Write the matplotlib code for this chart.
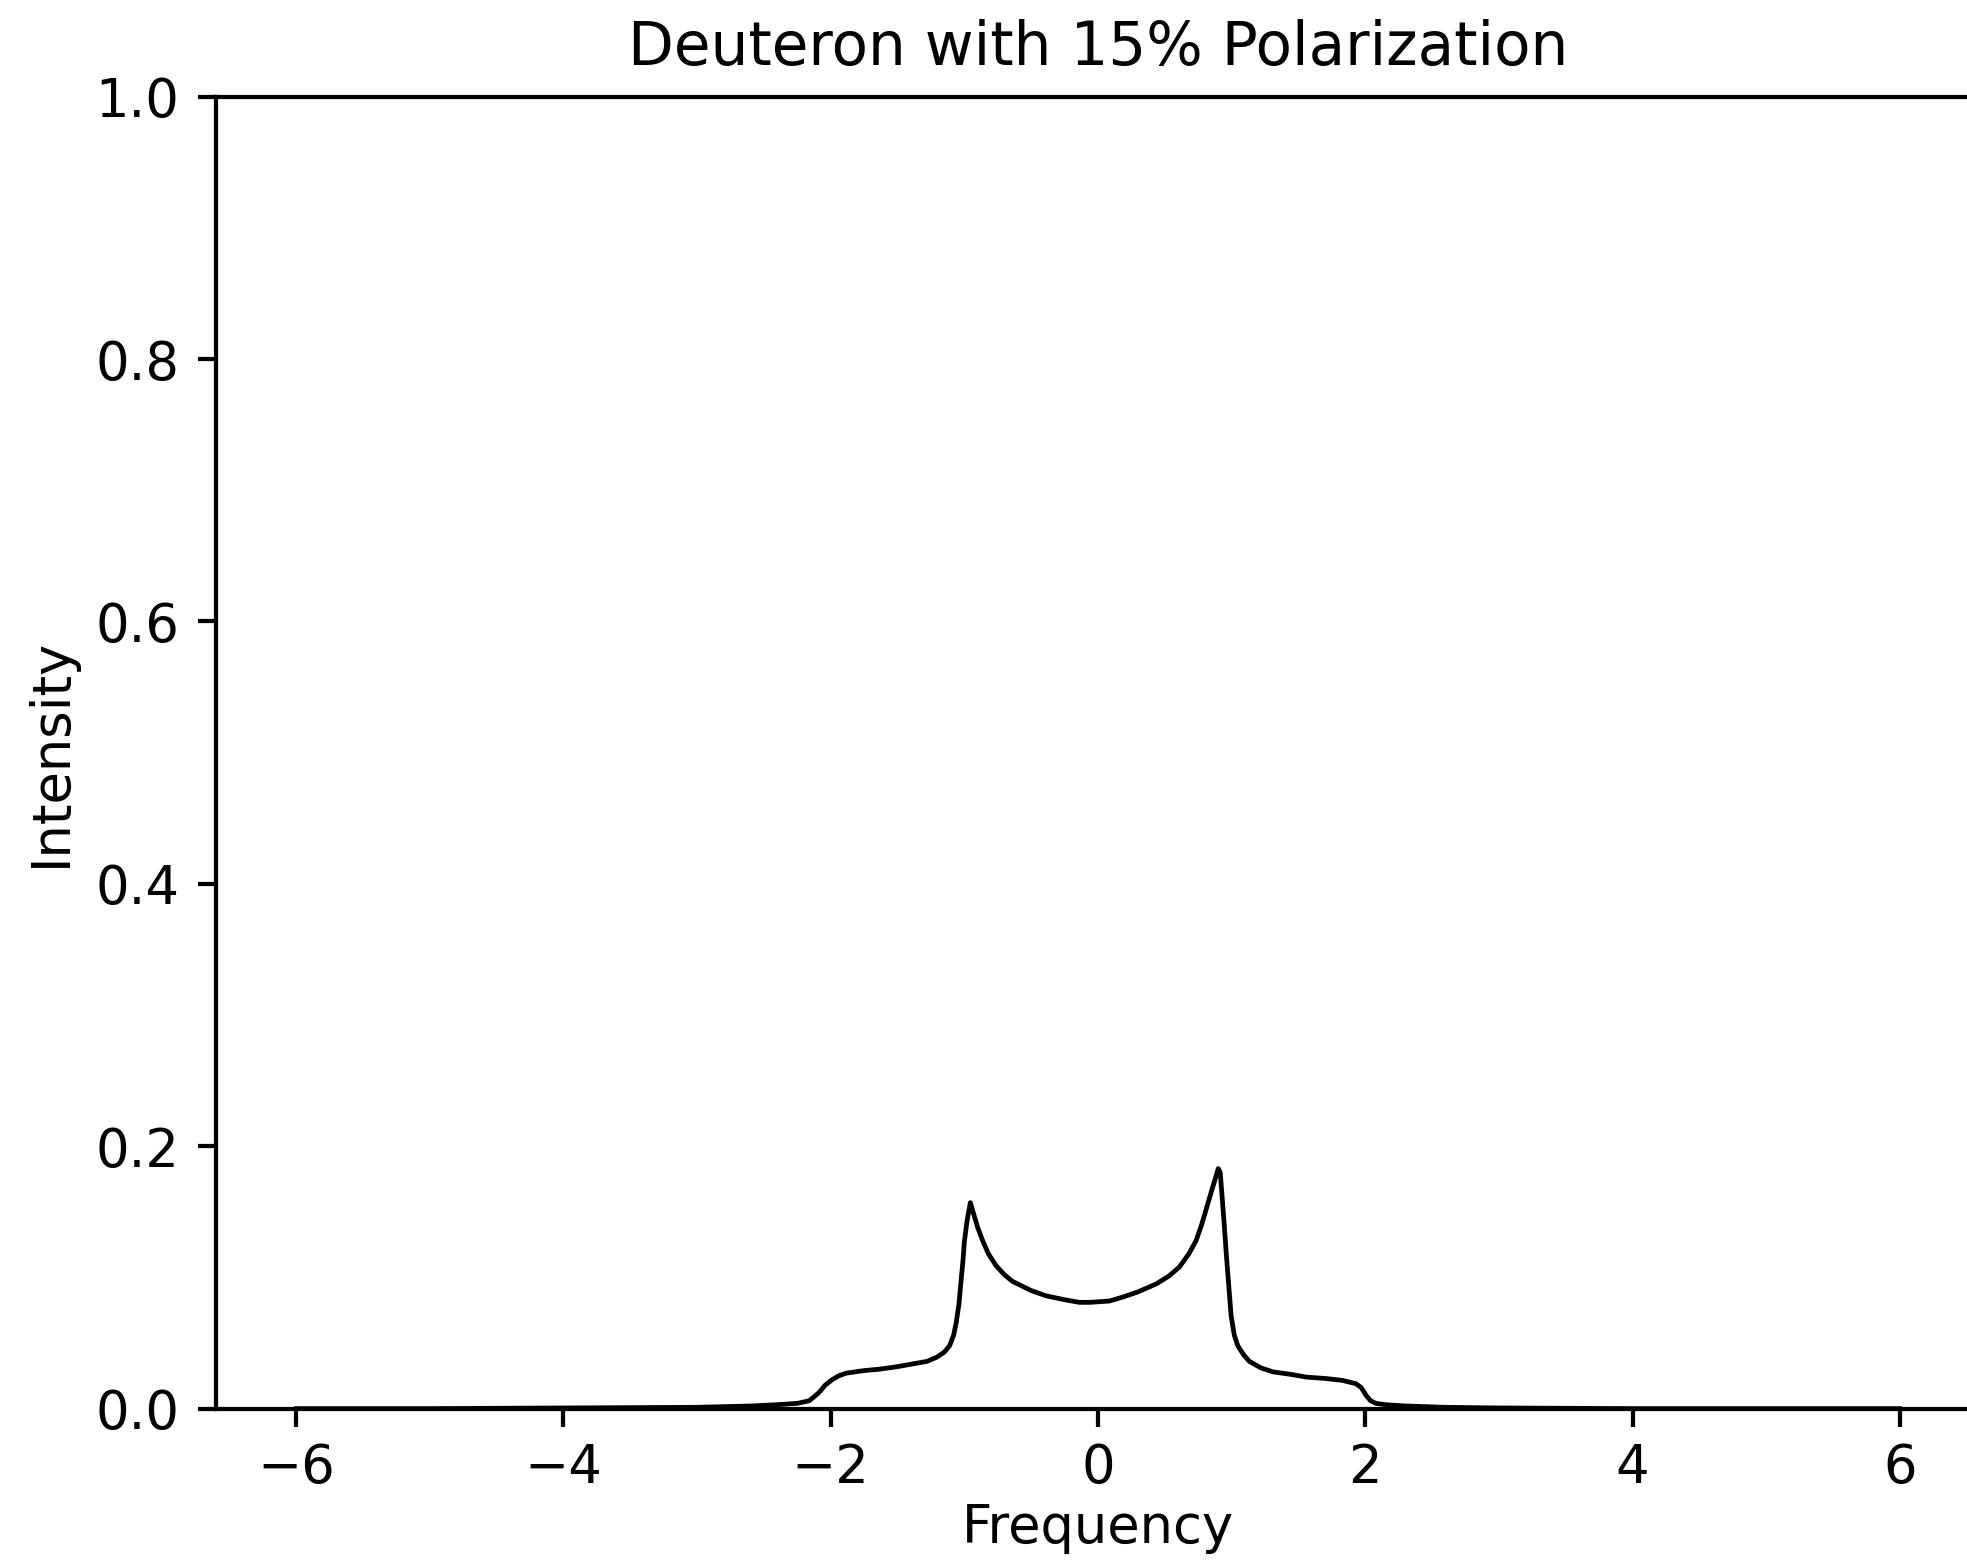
import numpy as np
import matplotlib
matplotlib.use("Agg")
import matplotlib.pyplot as plt

# points
freq = [-6.0, -5.0, -4.0, -3.0, -2.6, -2.4, -2.25, -2.16, -2.09, -2.04, -1.99,
        -1.94, -1.885, -1.75, -1.64, -1.5, -1.39, -1.28, -1.21, -1.15, -1.11,
        -1.08, -1.06, -1.04, -1.025, -1.01, -1.0, -0.98, -0.955, -0.935,
        -0.9, -0.863, -0.82, -0.763, -0.7, -0.64, -0.5, -0.39, -0.25, -0.14,
        -0.06, 0.085, 0.185, 0.3, 0.435, 0.53, 0.61, 0.68, 0.734, 0.775,
        0.81, 0.85, 0.88, 0.9, 0.915, 0.93, 0.945, 0.96, 0.98, 0.996,
        1.02, 1.046, 1.09, 1.133, 1.22, 1.31, 1.45, 1.56, 1.7, 1.83, 1.93,
        1.97, 2.007, 2.04, 2.08, 2.15, 2.3, 2.6, 3.0, 4.0, 5.0, 6.0]
intensity = [0.0, 0.0, 0.0005, 0.001, 0.002, 0.003, 0.004, 0.006, 0.012, 0.018, 0.022,
             0.025, 0.027, 0.029, 0.030, 0.032, 0.034, 0.036, 0.039, 0.043, 0.048,
             0.056, 0.066, 0.080, 0.097, 0.113, 0.127, 0.143, 0.157, 0.150,
             0.138, 0.128, 0.118, 0.109, 0.102, 0.097, 0.090, 0.086, 0.083, 0.081,
             0.081, 0.082, 0.085, 0.089, 0.095, 0.101, 0.108, 0.118, 0.128, 0.140,
             0.152, 0.166, 0.176, 0.183, 0.180, 0.160, 0.140, 0.118, 0.092, 0.071,
             0.056, 0.048, 0.041, 0.036, 0.031, 0.028, 0.026, 0.024, 0.023, 0.0215, 0.019,
             0.016, 0.010, 0.006, 0.004, 0.003, 0.002, 0.001, 0.0005, 0.0, 0.0, 0.0]

dpi = 380
fig = plt.figure(figsize=(1967 / dpi, 1566 / dpi), dpi=dpi)
# axes runs past the right edge, as in the cropped reference
ax = fig.add_axes([0.1098, 0.1005, 0.8968, 0.8378])

ax.plot(freq, intensity, color='black', linewidth=0.9)
ax.set_xlim(-6.6, 6.6)
ax.set_ylim(0, 1.0)
ax.set_xticks([-6, -4, -2, 0, 2, 4, 6])
ax.set_yticks([0.0, 0.2, 0.4, 0.6, 0.8, 1.0])
ax.tick_params(axis='x', pad=2.8)

ax.set_xlabel('Frequency', labelpad=1.5)
ax.set_ylabel('Intensity', labelpad=3.5)
ax.set_title('Deuteron with 15% Polarization', fontsize=11.3)

fig.savefig('out.png', dpi=dpi)
